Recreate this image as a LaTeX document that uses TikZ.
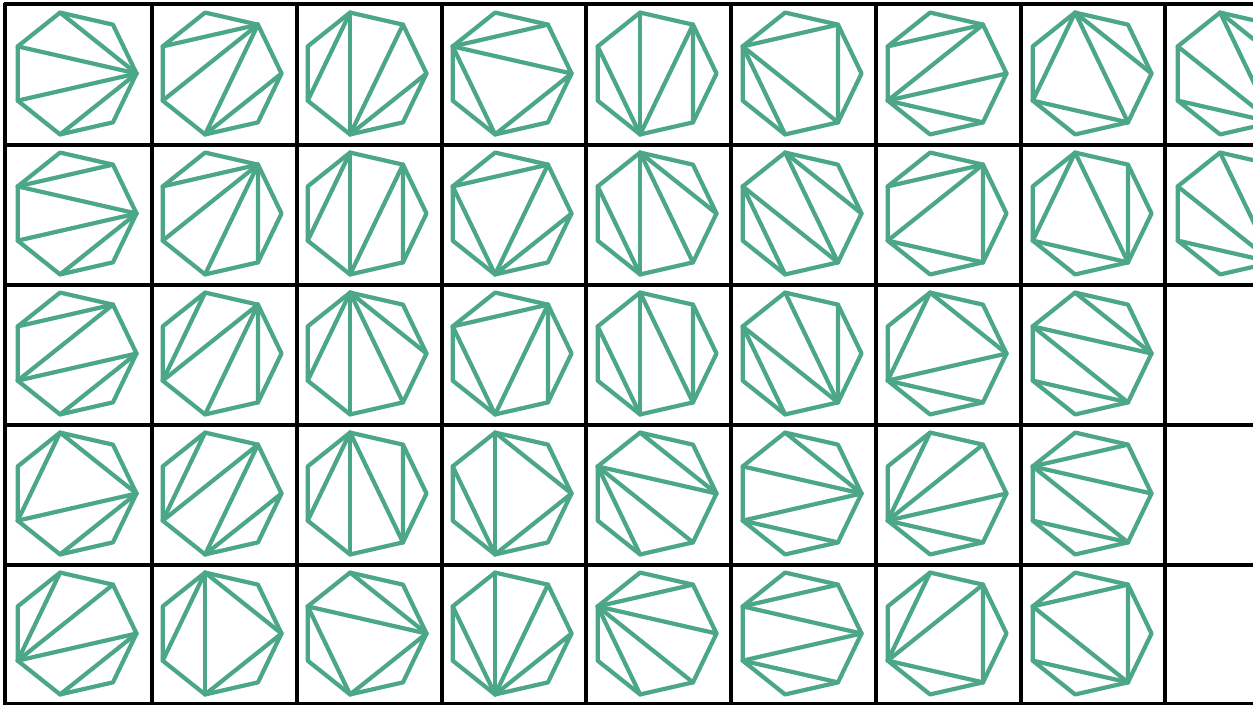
\documentclass[tikz,border=0pt]{standalone}
\usepackage{tikz}
\usepackage{xcolor}

\definecolor{triteal}{RGB}{76,166,136}

%% one heptagon with its diagonals: col, row, list of vertex pairs
\newcommand{\drawtri}[3]{%
  \begin{scope}[shift={(74+145*#1,73.5+140*#2)}]
    \foreach \k in {0,...,6}{
      \coordinate (v\k) at ({-360/7*\k}:62.5);
    }
    \draw[poly] (v0) -- (v1) -- (v2) -- (v3) -- (v4) -- (v5) -- (v6) -- cycle;
    \foreach \a/\b in {#3}{
      \draw[poly] (v\a) -- (v\b);
    }
  \end{scope}}

\begin{document}
\begin{tikzpicture}[x=0.02cm, y=-0.02cm,
  gridline/.style={black, line width=2pt},
  poly/.style={triteal, line width=2.4pt, line join=round, line cap=round}]
  \useasboundingbox (0,0) rectangle (1253,704);
  \clip (0,0) rectangle (1253,704);

  %% Grid
  \foreach \x in {5,152,297,442,586,731,876,1021,1165}{
    \draw[gridline] (\x,3) -- (\x,706);
  }
  \foreach \y in {4,145,285,425,565,704}{
    \draw[gridline] (3.5,\y) -- (1260,\y);
  }

  %% Row 1
  \drawtri{0}{0}{0/2,0/3,0/4,0/5}
  \drawtri{1}{0}{1/3,1/4,1/5,0/5}
  \drawtri{2}{0}{2/4,2/5,1/5,0/5}
  \drawtri{3}{0}{1/3,0/3,3/5,0/5}
  \drawtri{4}{0}{3/5,2/5,1/5,1/6}
  \drawtri{5}{0}{1/3,3/5,3/6,1/6}
  \drawtri{6}{0}{1/3,1/4,0/4,4/6}
  \drawtri{7}{0}{2/4,2/6,0/2,4/6}
  \drawtri{8}{0}{0/2,2/6,3/6,4/6}
  %% Row 2
  \drawtri{0}{1}{1/3,0/3,0/4,0/5}
  \drawtri{1}{1}{1/3,1/4,1/5,1/6}
  \drawtri{2}{1}{2/4,2/5,1/5,1/6}
  \drawtri{3}{1}{1/3,3/5,1/5,0/5}
  \drawtri{4}{1}{2/5,2/6,0/2,3/5}
  \drawtri{5}{1}{3/5,3/6,2/6,0/2}
  \drawtri{6}{1}{1/3,1/4,4/6,1/6}
  \drawtri{7}{1}{2/4,2/6,1/6,4/6}
  \drawtri{8}{1}{1/6,2/6,3/6,4/6}
  %% Row 3
  \drawtri{0}{2}{1/3,1/4,0/4,0/5}
  \drawtri{1}{2}{2/4,1/4,1/5,1/6}
  \drawtri{2}{2}{2/4,2/5,2/6,0/2}
  \drawtri{3}{2}{1/3,3/5,1/5,1/6}
  \drawtri{4}{2}{3/5,2/5,2/6,1/6}
  \drawtri{5}{2}{3/5,3/6,2/6,1/6}
  \drawtri{6}{2}{2/4,0/2,0/4,4/6}
  \drawtri{7}{2}{0/2,0/3,3/6,4/6}
  %% Row 4
  \drawtri{0}{3}{2/4,0/2,0/4,0/5}
  \drawtri{1}{3}{2/4,1/4,1/5,0/5}
  \drawtri{2}{3}{2/4,2/5,2/6,1/6}
  \drawtri{3}{3}{2/5,0/2,3/5,0/5}
  \drawtri{4}{3}{0/2,0/3,3/5,3/6}
  \drawtri{5}{3}{0/2,0/3,0/4,4/6}
  \drawtri{6}{3}{2/4,1/4,0/4,4/6}
  \drawtri{7}{3}{1/3,0/3,3/6,4/6}
  %% Row 5
  \drawtri{0}{4}{2/4,1/4,0/4,0/5}
  \drawtri{1}{4}{2/4,2/5,0/2,0/5}
  \drawtri{2}{4}{0/2,0/3,3/5,0/5}
  \drawtri{3}{4}{3/5,2/5,1/5,0/5}
  \drawtri{4}{4}{1/3,0/3,3/5,3/6}
  \drawtri{5}{4}{1/3,0/3,0/4,4/6}
  \drawtri{6}{4}{2/4,1/4,1/6,4/6}
  \drawtri{7}{4}{1/3,3/6,1/6,4/6}
\end{tikzpicture}
\end{document}
